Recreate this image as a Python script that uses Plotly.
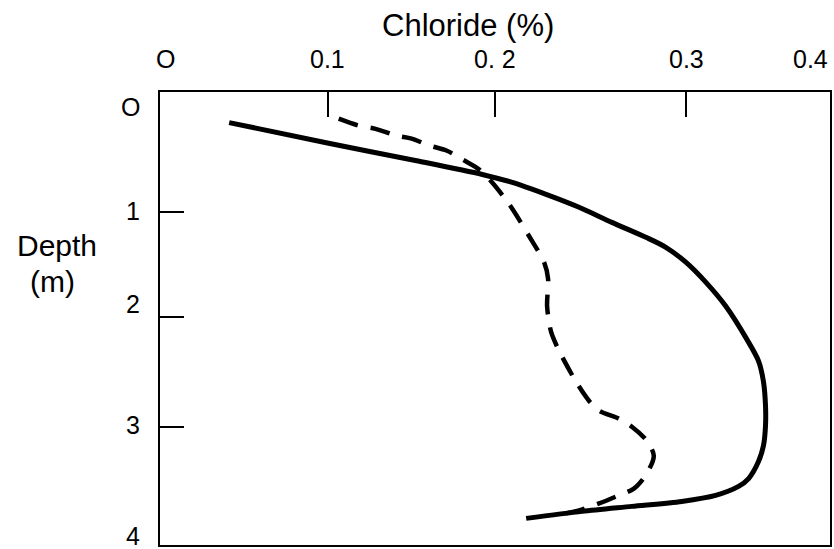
import plotly.graph_objects as go

# Solid profile (Chloride %, depth m)
solid_x = [0.0413, 0.1014, 0.1532, 0.1924, 0.2103, 0.2305, 0.2502, 0.2698, 0.2901, 0.3020,
           0.3139, 0.3258, 0.3377, 0.3502, 0.3573, 0.3603, 0.3615, 0.3615, 0.3603, 0.3573,
           0.3514, 0.3454, 0.3317, 0.3115, 0.2817, 0.2520, 0.2186]
solid_y = [0.270, 0.455, 0.607, 0.728, 0.798, 0.904, 1.018, 1.151, 1.283, 1.371,
           1.503, 1.679, 1.890, 2.180, 2.374, 2.559, 2.770, 2.946, 3.122, 3.263,
           3.413, 3.483, 3.562, 3.615, 3.659, 3.703, 3.765]

# Dashed profile
dash_x = [0.1067, 0.1186, 0.1281, 0.1412, 0.1502, 0.1609, 0.1710, 0.1817, 0.1906, 0.1978,
          0.2085, 0.2204, 0.2293, 0.2317, 0.2311, 0.2335, 0.2383, 0.2484, 0.2561, 0.2621,
          0.2740, 0.2817, 0.2906, 0.2948, 0.2906, 0.2829, 0.2722, 0.2621, 0.2502, 0.2424]
dash_y = [0.236, 0.297, 0.323, 0.385, 0.411, 0.473, 0.517, 0.605, 0.684, 0.790,
          0.992, 1.274, 1.503, 1.652, 1.890, 2.119, 2.286, 2.559, 2.726, 2.814,
          2.885, 2.956, 3.079, 3.211, 3.370, 3.502, 3.572, 3.633, 3.695, 3.721]

# Axis ticks as drawn
x_tick_vals = [0.1, 0.2, 0.3143]
x_label_pos = [0.0032, 0.1, 0.2, 0.3143, 0.3883]
x_labels = ["O", "0.1", "0. 2", "0.3", "0.4"]

y_tick_vals = [1.057, 1.983, 2.957]
y_label_pos = [0.134, 1.053, 1.87, 2.936, 3.917]
y_labels = ["O", "1", "2", "3", "4"]

FONT = "Liberation Sans, Arial, sans-serif"

fig = go.Figure()
fig.add_trace(go.Scatter(x=solid_x, y=solid_y, mode="lines",
                         line=dict(color="black", width=5, shape="spline", smoothing=0.8),
                         showlegend=False, hoverinfo="skip"))
fig.add_trace(go.Scatter(x=dash_x, y=dash_y, mode="lines",
                         line=dict(color="black", width=4.5, dash="20px,13px",
                                   shape="spline", smoothing=0.8),
                         showlegend=False, hoverinfo="skip"))

annotations = []
for xv, t in zip(x_label_pos, x_labels):
    annotations.append(dict(x=xv, y=1, xref="x", yref="paper", text=t, showarrow=False,
                            xanchor="center", yanchor="middle", yshift=33,
                            font=dict(family=FONT, size=25, color="black")))
for yv, t in zip(y_label_pos, y_labels):
    annotations.append(dict(x=0, y=yv, xref="paper", yref="y", text=t, showarrow=False,
                            xanchor="right", yanchor="middle", xshift=-18,
                            font=dict(family=FONT, size=25, color="black")))
annotations.append(dict(x=0.459, y=1, xref="paper", yref="paper", text="Chloride (%)",
                        showarrow=False, xanchor="center", yanchor="middle", yshift=67,
                        font=dict(family=FONT, size=31, color="black")))
annotations.append(dict(x=0, y=0.661, xref="paper", yref="paper", text="Depth",
                        showarrow=False, xanchor="center", yanchor="middle", xshift=-103,
                        font=dict(family=FONT, size=30, color="black")))
annotations.append(dict(x=0, y=0.582, xref="paper", yref="paper", text="(m)",
                        showarrow=False, xanchor="center", yanchor="middle", xshift=-108,
                        font=dict(family=FONT, size=30, color="black")))

fig.update_layout(
    width=834, height=549, autosize=False,
    margin=dict(l=160, r=2, t=92, b=2),
    paper_bgcolor="white", plot_bgcolor="white",
    annotations=annotations,
    xaxis=dict(range=[0, 0.4], side="top", showgrid=False, zeroline=False,
               showline=True, linecolor="black", linewidth=2, mirror=True,
               ticks="inside", ticklen=25, tickwidth=2, tickcolor="black",
               tickvals=x_tick_vals, showticklabels=False),
    yaxis=dict(range=[4, 0], showgrid=False, zeroline=False,
               showline=True, linecolor="black", linewidth=2, mirror=True,
               ticks="inside", ticklen=24, tickwidth=2, tickcolor="black",
               tickvals=y_tick_vals, showticklabels=False),
)

fig.write_html("out.html", config={"displayModeBar": False},
               post_script="document.body.style.margin='0px';")
